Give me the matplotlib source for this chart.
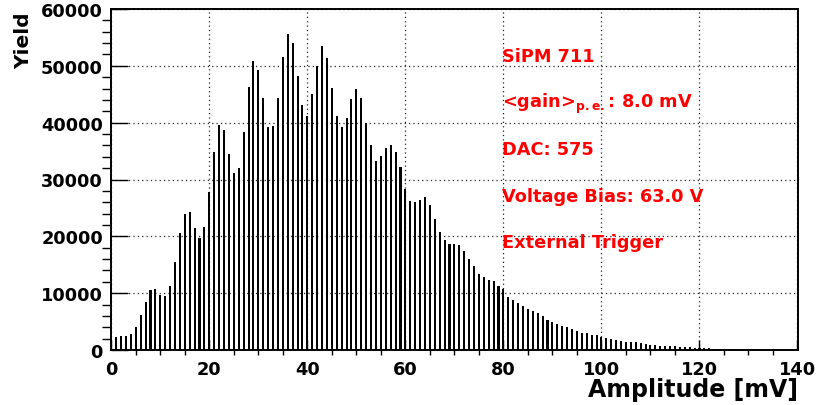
import matplotlib
matplotlib.use('Agg')
import matplotlib.pyplot as plt
import numpy as np
from matplotlib.ticker import MultipleLocator

# ---- data ----
amplitude_mV = list(range(1, 141))
yield_counts = [
    2300, 2470, 2470, 2820, 4000, 6180, 8530, 10530, 10700, 9700,
    9470, 11290, 15530, 20650, 24000, 24230, 21470, 19760, 21650, 27760,
    34760, 39590, 38700, 34530, 31180, 32060, 38410, 46350, 50820, 49350,
    44290, 39230, 39470, 44410, 51530, 55590, 54000, 48290, 43180, 41240,
    45000, 49940, 53410, 51410, 46060, 41120, 39290, 40820, 44170, 45940,
    44350, 39940, 36120, 33180, 34120, 35530, 36000, 34760, 32120, 28290,
    26290, 26030, 26470, 26940, 25470, 23060, 20820, 19410, 18650, 18700,
    18470, 17470, 16060, 14700, 13350, 12820, 12350, 12060, 11290, 10760,
    9240, 8710, 8240, 7760, 7290, 6940, 6470, 6000, 5290, 4880,
    4590, 4290, 4000, 3710, 3410, 2940, 2940, 2650, 2650, 2300,
    2090, 1910, 1760, 1620, 1440, 1380, 1320, 1150, 1030, 910,
    880, 770, 680, 650, 620, 560, 500, 440, 390, 350,
    300, 270, 240, 220, 200, 180, 160, 150, 140, 130,
    120, 110, 100, 90, 90, 80, 70, 60, 60, 50,
]
x_ticks = [0, 20, 40, 60, 80, 100, 120, 140]
x_tick_labels = ['0', '20', '40', '60', '80', '100', '120', '140']
y_ticks = [0, 10000, 20000, 30000, 40000, 50000, 60000]
y_tick_labels = ['0', '10000', '20000', '30000', '40000', '50000', '60000']
info_lines = ['SiPM 711', '<gain>$_{p.e.}$: 8.0 mV', 'DAC: 575',
              'Voltage Bias: 63.0 V', 'External Trigger']

plt.rcParams['font.family'] = ['DejaVu Sans']
plt.rcParams['font.weight'] = 'bold'
plt.rcParams['mathtext.default'] = 'bf'

W, H = 819, 406
fig = plt.figure(figsize=(W / 100, H / 100), dpi=100)
fig.patch.set_facecolor('white')
x0, x1, ytop, ybot = 111.3, 797.5, 10, 351
ax = fig.add_axes([x0 / W, 1 - ybot / H, (x1 - x0) / W, (ybot - ytop) / H])

ax.bar(amplitude_mV, yield_counts, width=0.42, color='black', linewidth=0, zorder=3)

ax.set_xlim(0, 140)
ax.set_ylim(0, 60000)
ax.set_xticks(x_ticks)
ax.set_xticklabels(x_tick_labels)
ax.set_yticks(y_ticks)
ax.set_yticklabels(y_tick_labels)
ax.xaxis.set_minor_locator(MultipleLocator(5))
ax.yaxis.set_minor_locator(MultipleLocator(2000))

ax.tick_params(direction='in', top=False, right=False, colors='black')
ax.tick_params(axis='y', which='major', length=12, width=1, pad=6, labelsize=12.8)
ax.tick_params(axis='y', which='minor', length=6.5, width=1)
ax.tick_params(axis='x', which='major', length=7, width=1, pad=7, labelsize=12.8)
ax.tick_params(axis='x', which='minor', length=3.6, width=1)
for lab in ax.get_xticklabels() + ax.get_yticklabels():
    lab.set_fontweight('bold')

ax.grid(True, which='major', color='#222222', linestyle=(0, (1, 2.5)), linewidth=0.9, zorder=1)
ax.set_axisbelow(True)
for s in ax.spines.values():
    s.set_linewidth(1.4)
    s.set_zorder(5)

fig.text(x1 / W, 1 - 397 / H, 'Amplitude [mV]', ha='right', va='baseline',
         fontsize=17, fontweight='bold')
fig.text(24 / W, 1 - 12 / H, 'Yield', rotation=90, ha='center', va='top',
         fontsize=14.5, fontweight='bold')

baselines = [62, 108.5, 155, 201.7, 248.3]
for txt, yb in zip(info_lines, baselines):
    fig.text(502 / W, 1 - yb / H, txt, ha='left', va='baseline',
             fontsize=12.8, fontweight='bold', color='#ff0000')

fig.savefig('out.png', dpi=100)
